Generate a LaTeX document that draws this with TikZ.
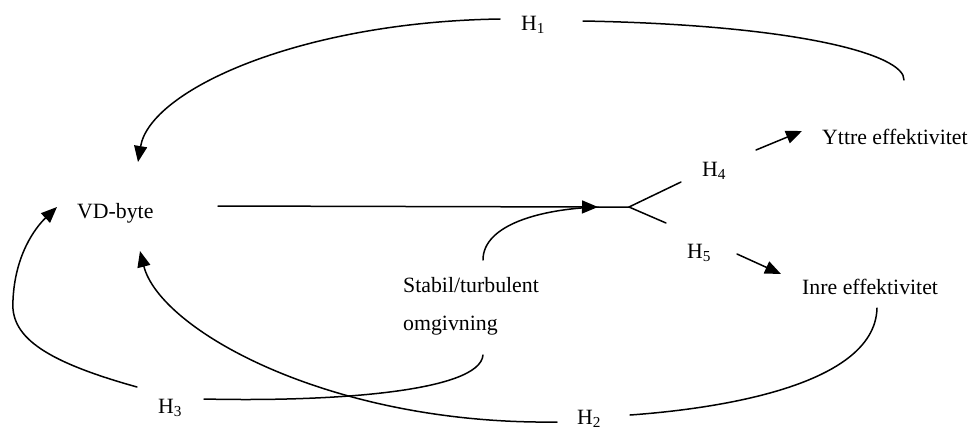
\documentclass[tikz,border=0pt]{standalone}
\usepackage{fontspec}
\setmainfont{Liberation Serif}
\usetikzlibrary{arrows.meta}
\begin{document}
\begin{tikzpicture}[x=1pt,y=-1pt,
  lbl/.style={anchor=base west, inner sep=0pt, font=\fontsize{21.8}{26}\selectfont},
  conn/.style={line width=1.5pt, line cap=round},
  arr/.style={conn, -{Triangle[length=16pt,width=13pt]}}]
\useasboundingbox (0,0) rectangle (975,432);

% labels
\node[lbl] (h1) at (521,30) {H\textsubscript{1}};
\node[lbl] (vd) at (77,218) {VD-byte};
\node[lbl] (yttre) at (822,144) {Yttre effektivitet};
\node[lbl] (h4) at (702,176) {H\textsubscript{4}};
\node[lbl] (h5) at (687,258) {H\textsubscript{5}};
\node[lbl] (inre) at (802,294) {Inre effektivitet};
\node[lbl] (stab) at (403,292) {Stabil/turbulent};
\node[lbl] (omg) at (403,330) {omgivning};
\node[lbl] (h3) at (158,413) {H\textsubscript{3}};
\node[lbl] (h2) at (577,424) {H\textsubscript{2}};

% connector end points
\coordinate (h1L) at (500,19);
\coordinate (h1R) at (583,21);
\coordinate (vdTop) at (138,162);
\coordinate (yttreTop) at (904,80);
\coordinate (vdOut) at (218,206);
\coordinate (tip) at (598,207);
\coordinate (fork) at (629,207);
\coordinate (up) at (681,182);
\coordinate (down) at (666,223);
\coordinate (h4a) at (756,150);
\coordinate (h4b) at (802,131);
\coordinate (h5a) at (737,254);
\coordinate (h5b) at (781,274);
\coordinate (stabTop) at (483,260);
\coordinate (stabBot) at (483,355);
\coordinate (inreBot) at (877,308);
\coordinate (h2R) at (630,415);
\coordinate (h2L) at (557,422);
\coordinate (vdBot) at (140,251);
\coordinate (h3R) at (204,399);
\coordinate (h3L) at (137,387);
\coordinate (vdLeft) at (57,207);

% H1 loop
\draw[conn] (h1R) .. controls (800,25) and (905,55) .. (yttreTop);
\draw[arr] (h1L) .. controls (300,22) and (150,90) .. (vdTop);

% main arrow and fork
\draw[arr] (vdOut) -- (tip);
\draw[conn] (tip) -- (fork) -- (up);
\draw[conn] (fork) -- (down);
\draw[conn] (stabTop) .. controls (483,225) and (540,209) .. (tip);

% H4, H5 arrows
\draw[arr] (h4a) -- (h4b);
\draw[arr] (h5a) -- (h5b);

% H2 loop
\draw[conn] (inreBot) .. controls (875,390) and (700,410) .. (h2R);
\draw[arr] (h2L) .. controls (330,425) and (160,330) .. (vdBot);

% H3 loop
\draw[conn] (stabBot) .. controls (480,392) and (330,402) .. (h3R);
\draw[arr] (h3L) .. controls (40,360) and (10,335) .. (13,300)
  .. controls (15,255) and (35,228) .. (vdLeft);
\end{tikzpicture}
\end{document}
